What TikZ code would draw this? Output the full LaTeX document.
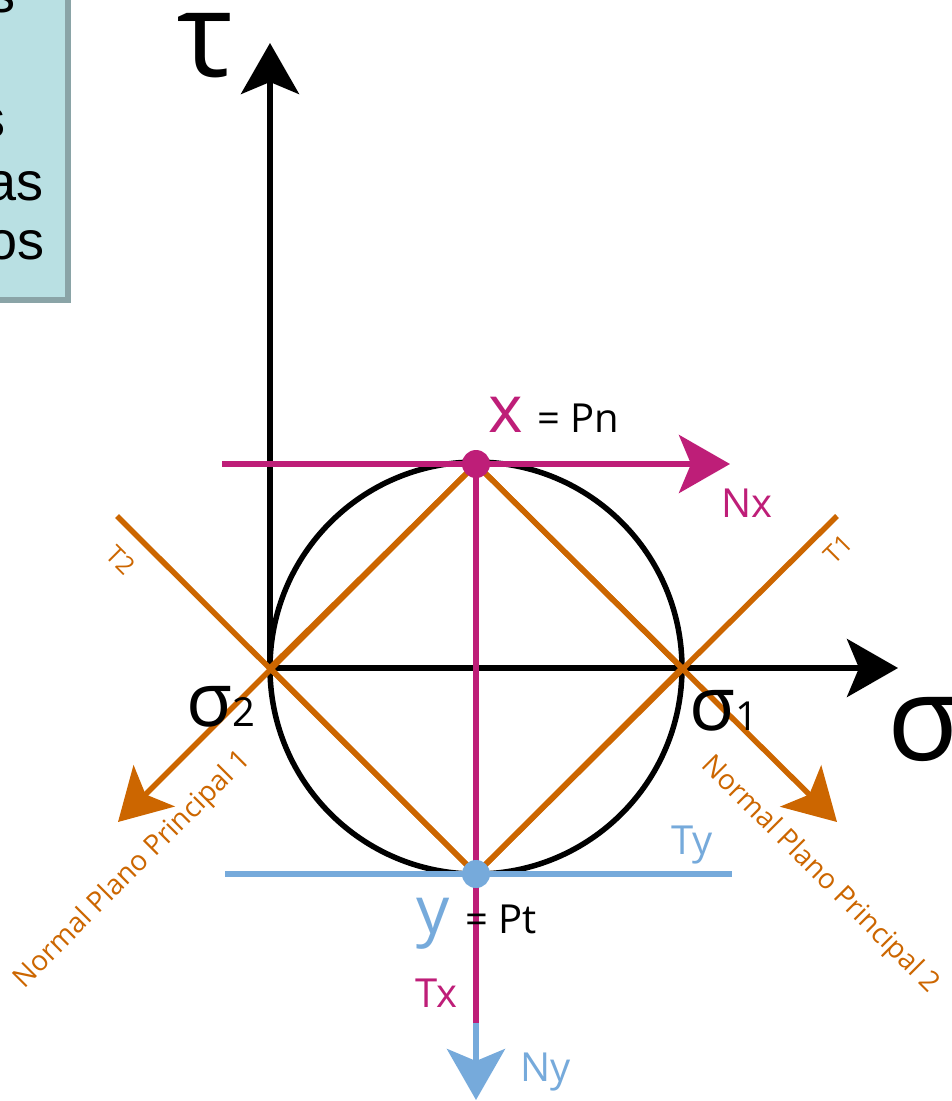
\documentclass[tikz,border=0pt]{standalone}
\usepackage{fontspec}
\setmainfont{Open Sans}
\newfontfamily\arialfont{Liberation Sans}
\usetikzlibrary{arrows.meta}
\definecolor{mag}{HTML}{BE1E78}
\definecolor{org}{HTML}{CC6600}
\definecolor{blu}{HTML}{76AADB}
\definecolor{boxfill}{HTML}{B9E0E3}
\definecolor{boxline}{HTML}{8AA4A7}
\newcommand{\fs}[1]{\fontsize{#1}{#1}\selectfont}
\begin{document}
\begin{tikzpicture}[x=1pt,y=-1pt,
  ln/.style={line width=5.5pt},
  bigtip/.style={-{Stealth[length=51pt,width=58pt,inset=12pt]}},
  dot/.style={circle,minimum size=28pt,inner sep=0pt},
  lbl/.style={inner sep=0pt,anchor=base west},
  boxtxt/.style={inner sep=0pt,anchor=base east,font=\arialfont\fs{54}}]
\useasboundingbox (0,0) rectangle (951,1101);
% partial text box
\draw[fill=boxfill,draw=boxline,line width=5.5pt] (-20,-20) rectangle (68,300);
\node[boxtxt] (b1) at (16,12) {s};
\node[boxtxt] (b2) at (6,137) {s};
\node[boxtxt] (b3) at (44,200) {as};
\node[boxtxt] (b4) at (45,259) {os};
% key points
\coordinate (O) at (476,668);
\coordinate (S2) at (270,668);
\coordinate (S1) at (682,668);
\coordinate (tauTip) at (270,43);
\coordinate (sigTip) at (898,668);
\coordinate (T2end) at (117,516);
\coordinate (T1end) at (837,516);
\coordinate (N1tip) at (118,822);
\coordinate (N2tip) at (837,822);
\coordinate (NxStart) at (222,464);
\coordinate (NxTip) at (730,464);
\coordinate (TyStart) at (225,874);
\coordinate (TyEnd) at (732,874);
\coordinate (Mend) at (476,1023);
\coordinate (NyTip) at (476,1100);
\node[dot] (X) at (476,464) {};
\node[dot] (Y) at (476,874) {};
% circle and axes
\draw[ln] (O) circle (206);
\draw[ln,{Stealth[length=51pt,width=58pt,inset=12pt]}-{Stealth[length=51pt,width=58pt,inset=12pt]}] (tauTip) -- (S2) -- (sigTip);
% orange
\draw[ln,org,line join=miter] (X.center) -- (S1) -- (Y.center) -- (S2) -- cycle;
\draw[ln,org] (T2end) -- (Y.center);
\draw[ln,org] (T1end) -- (Y.center);
\draw[ln,org,bigtip] (X.center) -- (N1tip);
\draw[ln,org,bigtip] (X.center) -- (N2tip);
% magenta and blue
\draw[ln,mag,bigtip] (NxStart) -- (NxTip);
\draw[ln,blu] (TyStart) -- (TyEnd);
\draw[ln,mag] (X.center) -- (Mend);
\draw[ln,blu,bigtip] (Mend) -- (NyTip);
\node[dot,fill=mag] at (X) {};
\node[dot,fill=blu] at (Y) {};
% labels
\node[lbl,font=\fs{118}] (tau) at (177,76) {τ};
\node[lbl,font=\fs{118}] (sig) at (887,760) {σ};
\node[lbl,font=\fs{75}] (s2) at (186,726) {σ{\fs{40}2}};
\node[lbl,font=\fs{75}] (s1) at (689,730) {σ{\fs{40}1}};
\node[lbl,font=\fs{66},text=mag] (xl) at (488,432) {x};
\node[lbl,font=\fs{40}] (pn) at (537,432) {= Pn};
\node[lbl,font=\fs{66},text=blu] (yl) at (416,933) {y};
\node[lbl,font=\fs{40}] (pt) at (465,933) {= Pt};
\node[lbl,font=\fs{40},text=mag] (tx) at (415,1007) {Tx};
\node[lbl,font=\fs{40},text=blu] (ny) at (520,1081) {Ny};
\node[lbl,font=\fs{40},text=blu] (ty) at (671,854) {Ty};
\node[lbl,font=\fs{40},text=mag] (nx) at (721,517) {Nx};
\node[font=\fs{25},text=org,rotate=-45,inner sep=0pt] (t2) at (121,560) {T2};
\node[font=\fs{25},text=org,rotate=45,inner sep=0pt] (t1) at (838,549) {T1};
\node[font=\fs{28},text=org,rotate=45,inner sep=0pt] (np1) at (133,870) {Normal Plano Principal 1};
\node[font=\fs{28},text=org,rotate=-45,inner sep=0pt] (np2) at (820,875) {Normal Plano Principal 2};
\end{tikzpicture}
\end{document}
